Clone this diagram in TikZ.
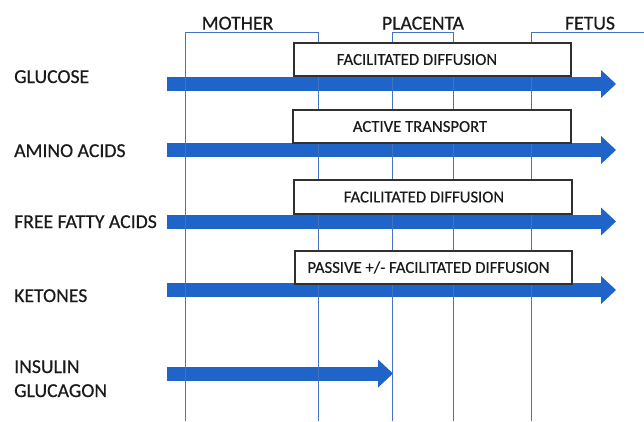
\documentclass[tikz,border=0pt]{standalone}
\usepackage{fontspec}
\setmainfont{Carlito}
\newfontfamily\heavyfont{Carlito}[FakeBold=0.5]
\newfontfamily\boxfont{Carlito}[FakeBold=0.3]
\usetikzlibrary{arrows.meta}
\definecolor{lineblue}{HTML}{4472C4}
\definecolor{arrowblue}{HTML}{1F64C8}
\definecolor{boxgray}{HTML}{303030}
\definecolor{textgray}{HTML}{1A1A1A}
\begin{document}
\begin{tikzpicture}[x=1pt,y=-1pt,
  lbl/.style={anchor=base west,inner sep=0pt,text=textgray,font=\heavyfont\fontsize{19.7}{22}\selectfont},
  hdr/.style={anchor=base,inner sep=0pt,text=textgray,font=\heavyfont\fontsize{19.7}{22}\selectfont},
  boxtext/.style={anchor=base,inner sep=0pt,text=textgray,font=\boxfont\fontsize{16.7}{19}\selectfont},
  tbox/.style={draw=boxgray,line width=1.2pt,fill=white,rectangle,inner sep=0pt},
  brk/.style={draw=lineblue,line width=1pt},
  flow/.style={draw=arrowblue,line width=14pt,-{Triangle[length=15pt,width=28pt,line width=0pt]}}
]
\useasboundingbox (0,0) rectangle (644,421);
% arrows
\coordinate (g0) at (167,84);    \coordinate (g1) at (616,84);
\coordinate (a0) at (167,150);   \coordinate (a1) at (616,150);
\coordinate (f0) at (167,221.5); \coordinate (f1) at (616,221.5);
\coordinate (k0) at (167,290);   \coordinate (k1) at (616,290);
\coordinate (i0) at (167,373.5); \coordinate (i1) at (393,373.5);
\draw[flow] (g0) -- (g1);
\draw[flow] (a0) -- (a1);
\draw[flow] (f0) -- (f1);
\draw[flow] (k0) -- (k1);
\draw[flow] (i0) -- (i1);
% brackets
\coordinate (m0) at (185,421); \coordinate (m1) at (185,32); \coordinate (m2) at (318,32); \coordinate (m3) at (318,421);
\coordinate (p0) at (392,421); \coordinate (p1) at (392,32); \coordinate (p2) at (453,32); \coordinate (p3) at (453,421);
\coordinate (e0) at (531,421); \coordinate (e1) at (531,32); \coordinate (e2) at (644,32);
\draw[brk] (m0) -- (m1) -- (m2) -- (m3);
\draw[brk] (p0) -- (p1) -- (p2) -- (p3);
\draw[brk] (e0) -- (e1) -- (e2);
% headers
\node[hdr] (hm) at (237.5,29.5) {MOTHER};
\node[hdr] (hp) at (423,29.5) {PLACENTA};
\node[hdr] (hf) at (590,29.5) {FETUS};
% boxes
\node[tbox,minimum width=277pt,minimum height=33pt] (b1) at (432.5,59.5) {};
\node[tbox,minimum width=278pt,minimum height=33pt] (b2) at (432,126.5) {};
\node[tbox,minimum width=278pt,minimum height=34pt] (b3) at (433,197) {};
\node[tbox,minimum width=277pt,minimum height=33pt] (b4) at (433.5,267.5) {};
\node[boxtext] (t1) at (417,64.9) {FACILITATED DIFFUSION};
\node[boxtext] (t2) at (420,131.9) {ACTIVE TRANSPORT};
\node[boxtext] (t3) at (424,202.4) {FACILITATED DIFFUSION};
\node[boxtext] (t4) at (428.5,272.9) {PASSIVE +/- FACILITATED DIFFUSION};
% labels
\node[lbl] (lg) at (14,83) {GLUCOSE};
\node[lbl] (la) at (14,157) {AMINO ACIDS};
\node[lbl] (lf) at (14,228) {FREE FATTY ACIDS};
\node[lbl] (lk) at (14,302) {KETONES};
\node[lbl] (li) at (14,373) {INSULIN};
\node[lbl] (lc) at (14,397) {GLUCAGON};
\end{tikzpicture}
\end{document}
